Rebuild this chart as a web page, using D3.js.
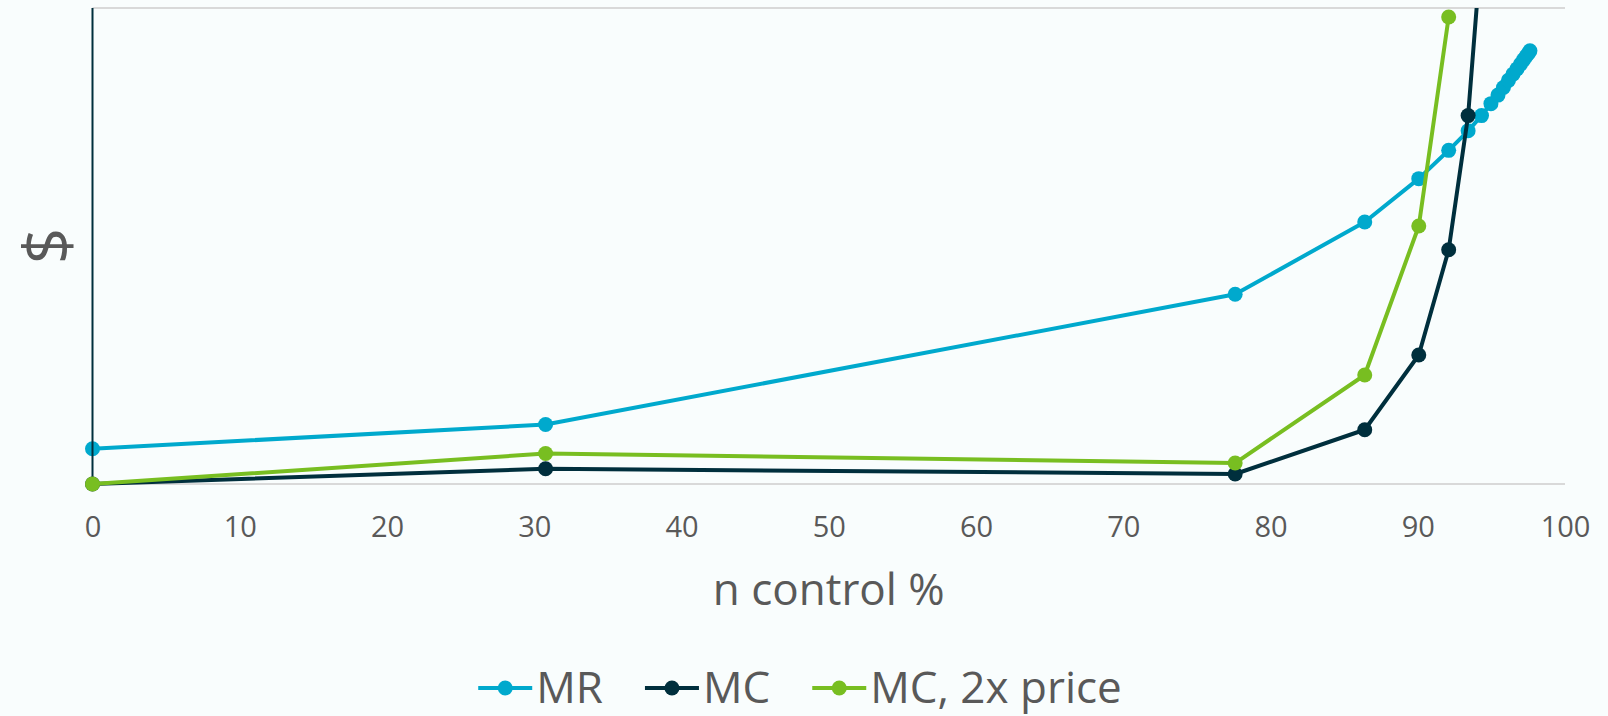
<!DOCTYPE html>
<html>
<head>
<meta charset="utf-8">
<script src="https://cdn.jsdelivr.net/npm/d3@7"></script>
<style>
  html, body { margin: 0; padding: 0; background: #f9fdfd; }
  svg { display: block; }
  text { font-family: "Open Sans", "Noto Sans", sans-serif; fill: #595959; }
</style>
</head>
<body>
<svg id="chart" width="1608" height="716"></svg>
<script>
// Share of control achieved (%) at each step
const controlPct = [0, 30.77, 77.6, 86.4, 90.07, 92.1, 93.42, 94.33, 94.97, 95.45,
                    95.82, 96.16, 96.47, 96.74, 96.98, 97.18, 97.35, 97.49, 97.62];
// Marginal revenue
const mrValues = [7.4, 12.5, 39.85, 55.05, 64.15, 70.1, 74.2, 77.4, 79.9, 81.7,
                  83.3, 84.8, 86.1, 87.2, 88.2, 89.1, 89.8, 90.4, 91.0];
// Marginal cost
const mcValues = [0, 3.2, 2.1, 11.4, 27.1, 49.2, 77.4, 113];
// Marginal cost at twice the price
const mc2xValues = [0, 6.4, 4.4, 22.9, 54.2, 98.1];

const xTicks = [0, 10, 20, 30, 40, 50, 60, 70, 80, 90, 100];
const seriesNames = ["MR", "MC", "MC, 2x price"];
const seriesColors = ["#00a9cd", "#002f3d", "#78be21"];

const svg = d3.select("#chart");
const W = 1608, H = 716;
const plot = { left: 92.5, right: 1565, top: 8, bottom: 484 };

const x = d3.scaleLinear().domain([0, 100]).range([plot.left, plot.right]);
const y = d3.scaleLinear().domain([0, 100]).range([plot.bottom, plot.top]);

svg.append("rect").attr("width", W).attr("height", H).attr("fill", "#f9fdfd");

// Lines are clipped at the top of the plot area
svg.append("defs").append("clipPath").attr("id", "plotClip")
  .append("rect").attr("x", 0).attr("y", plot.top).attr("width", W).attr("height", H - plot.top);

// Horizontal gridlines (bottom and top of the value range)
svg.append("g").selectAll("line").data([0, 100]).join("line")
  .attr("x1", plot.left).attr("x2", plot.right)
  .attr("y1", d => y(d)).attr("y2", d => y(d))
  .attr("stroke", "#d9d9d9").attr("stroke-width", 2);

// X axis tick labels
const xAxis = d3.axisBottom(x).tickValues(xTicks).tickSize(0).tickPadding(0);
const gx = svg.append("g").attr("transform", `translate(0,${plot.bottom})`).call(xAxis);
gx.select(".domain").remove();
gx.selectAll("text")
  .attr("dy", null).attr("y", 53)
  .style("font-family", '"Open Sans", "Noto Sans", sans-serif')
  .style("font-size", "29px").attr("fill", "#595959");

// Axis titles
svg.append("text")
  .attr("x", (plot.left + plot.right) / 2).attr("y", 605)
  .attr("text-anchor", "middle").style("font-size", "44px")
  .text("n control %");
svg.append("text")
  .attr("transform", "translate(70,246) rotate(-90)")
  .attr("text-anchor", "middle").style("font-size", "64px")
  .text("$");

const lineGen = d3.line().x(d => x(d[0])).y(d => y(d[1]));
const seriesData = [mrValues, mcValues, mc2xValues].map(vals => vals.map((v, i) => [controlPct[i], v]));

function drawSeries(idx) {
  const g = svg.append("g").attr("clip-path", "url(#plotClip)");
  g.append("path").datum(seriesData[idx])
    .attr("d", lineGen).attr("fill", "none")
    .attr("stroke", seriesColors[idx]).attr("stroke-width", 4)
    .attr("stroke-linejoin", "round");
  g.selectAll("circle").data(seriesData[idx]).join("circle")
    .attr("cx", d => x(d[0])).attr("cy", d => y(d[1])).attr("r", 7.5)
    .attr("fill", seriesColors[idx]);
}

drawSeries(0);
// Vertical value axis line
svg.append("line")
  .attr("x1", plot.left).attr("x2", plot.left)
  .attr("y1", plot.top).attr("y2", plot.bottom)
  .attr("stroke", "#002f3d").attr("stroke-width", 2);
drawSeries(1);
drawSeries(2);

// Legend, centred along the bottom
const legend = svg.append("g");
const items = legend.selectAll("g").data(seriesNames).join("g");
items.append("line").attr("x1", 0).attr("x2", 54).attr("y1", 0).attr("y2", 0)
  .attr("stroke", (d, i) => seriesColors[i]).attr("stroke-width", 4);
items.append("circle").attr("cx", 27).attr("cy", 0).attr("r", 7.5)
  .attr("fill", (d, i) => seriesColors[i]);
items.append("text").attr("x", 58).attr("y", 15).style("font-size", "44px").text(d => d);
const gap = 42;
const widths = items.nodes().map(n => n.getBBox().width);
const total = d3.sum(widths) + gap * (widths.length - 1);
let cursor = 800 - total / 2;
items.attr("transform", (d, i) => {
  const t = `translate(${cursor},688)`;
  cursor += widths[i] + gap;
  return t;
});
</script>
</body>
</html>
